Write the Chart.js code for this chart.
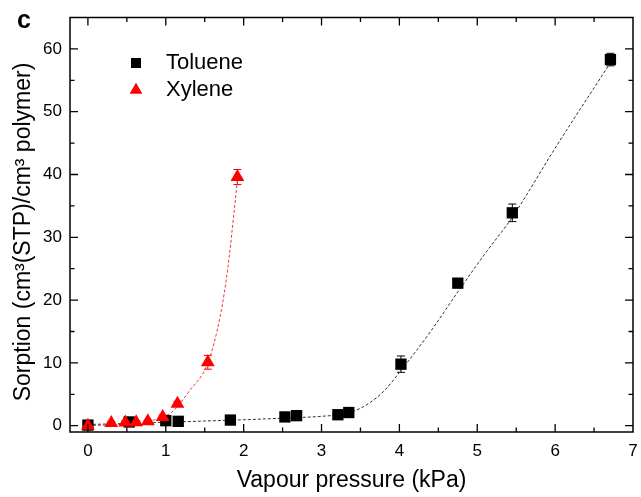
<!DOCTYPE html>
<html>
<head>
<meta charset="utf-8">
<script src="https://cdn.jsdelivr.net/npm/chart.js@4.4.0/dist/chart.umd.min.js"></script>
<style>
  html, body { margin: 0; padding: 0; background: #fff; overflow: hidden; }
  #wrap { position: relative; width: 641px; height: 497px; }
</style>
</head>
<body>
<div id="wrap"><canvas id="chart"></canvas></div>
<script>
const xTicks = [0, 1, 2, 3, 4, 5, 6, 7];
const xMinorTicks = [0.5, 1.5, 2.5, 3.5, 4.5, 5.5, 6.5];
const yTicks = [0, 10, 20, 30, 40, 50, 60];
const yMinorTicks = [5, 15, 25, 35, 45, 55];

// measured points
const tolueneX = [0, 0.53, 1.0, 1.16, 1.83, 2.53, 2.68, 3.21, 3.35, 4.02, 4.75, 5.45, 6.71];
const tolueneY = [0.1, 0.6, 0.8, 0.7, 0.9, 1.4, 1.6, 1.75, 2.1, 9.8, 22.7, 33.9, 58.3];
const tolueneErr = [0.2, 0.2, 0.2, 0.2, 0.2, 0.3, 0.3, 0.3, 0.3, 1.3, 0.5, 1.4, 1.0];

const xyleneX = [0, 0.30, 0.48, 0.62, 0.77, 0.96, 1.15, 1.54, 1.92];
const xyleneY = [0, 0.43, 0.53, 0.55, 0.7, 1.4, 3.5, 10.1, 39.6];
const xyleneErr = [0.2, 0.2, 0.2, 0.2, 0.2, 0.3, 0.4, 1.1, 1.2];

// dashed fit curves
const tolueneFitX = [0, 0.5, 1, 1.5, 2, 2.5, 3, 3.3, 3.45, 3.6, 3.8, 4.02, 4.4, 4.75, 5.1, 5.45, 6.0, 6.71];
const tolueneFitY = [0.2, 0.35, 0.55, 0.75, 0.95, 1.2, 1.5, 1.9, 2.5, 3.5, 5.5, 8.8, 15, 21.3, 27.4, 33.2, 44.2, 57.8];

const xyleneFitX = [0, 0.3, 0.6, 0.9, 1.1, 1.3, 1.54, 1.7, 1.8, 1.88, 1.92];
const xyleneFitY = [0, 0.15, 0.45, 1.1, 2.4, 5.5, 10.0, 17.5, 25.4, 34.4, 39.2];

const FONT = "'Liberation Sans', Arial, sans-serif";
Chart.defaults.font.family = FONT;

const pts = (xs, ys) => xs.map((v, i) => ({ x: v, y: ys[i] }));

const errorBars = {
    id: 'errorBars',
    beforeDatasetsDraw(chart) {
        const { ctx, scales: { x, y } } = chart;
        chart.data.datasets.forEach(ds => {
            if (!ds.err) return;
            ctx.save();
            ctx.strokeStyle = ds.backgroundColor;
            ctx.lineWidth = 1;
            ds.data.forEach((p, i) => {
                const px = x.getPixelForValue(p.x);
                const top = y.getPixelForValue(p.y + ds.err[i]);
                const bot = y.getPixelForValue(p.y - ds.err[i]);
                ctx.beginPath();
                ctx.moveTo(px, top); ctx.lineTo(px, bot);
                ctx.moveTo(px - 4, top); ctx.lineTo(px + 4, top);
                ctx.moveTo(px - 4, bot); ctx.lineTo(px + 4, bot);
                ctx.stroke();
            });
            ctx.restore();
        });
    }
};

const frame = {
    id: 'frame',
    afterDraw(chart) {
        const { ctx, chartArea: a, scales: { x, y } } = chart;
        ctx.save();
        ctx.strokeStyle = '#000';
        ctx.lineWidth = 1.5;
        ctx.strokeRect(a.left, a.top, a.right - a.left, a.bottom - a.top);
        ctx.lineWidth = 1.3;
        ctx.beginPath();
        const xt = (list, len) => list.forEach(v => {
            const px = x.getPixelForValue(v);
            if (px <= a.left + 1 || px >= a.right - 1) return;
            ctx.moveTo(px, a.bottom); ctx.lineTo(px, a.bottom - len);
            ctx.moveTo(px, a.top); ctx.lineTo(px, a.top + len);
        });
        const yt = (list, len) => list.forEach(v => {
            const py = y.getPixelForValue(v);
            ctx.moveTo(a.left, py); ctx.lineTo(a.left + len, py);
            ctx.moveTo(a.right, py); ctx.lineTo(a.right - len, py);
        });
        xt(xTicks, 8); xt(xMinorTicks, 4.5);
        yt(yTicks, 8); yt(yMinorTicks, 4.5);
        ctx.stroke();

        ctx.fillStyle = '#000';

        // y axis title
        ctx.save();
        ctx.translate(24, 232);
        ctx.rotate(-Math.PI / 2);
        ctx.font = '23px ' + FONT;
        ctx.textAlign = 'center';
        ctx.textBaseline = 'middle';
        ctx.fillText('Sorption (cm³(STP)/cm³ polymer)', 0, 0);
        ctx.restore();

        // panel letter
        ctx.font = 'bold 25px ' + FONT;
        ctx.textBaseline = 'alphabetic';
        ctx.fillText('c', 17, 28);

        // legend
        const items = chart.data.datasets.filter(d => d.legend);
        ctx.font = '22px ' + FONT;
        ctx.textBaseline = 'middle';
        items.forEach((d, i) => {
            const ly = 63 + i * 27;
            ctx.fillStyle = d.backgroundColor;
            Chart.helpers.drawPoint(ctx, { pointStyle: d.pointStyle, radius: 7, rotation: 0, borderWidth: 0 }, 136, ly);
            ctx.fill();
            ctx.fillStyle = '#000';
            ctx.fillText(d.label, 166, ly);
        });
        ctx.restore();
    }
};

new Chart(document.getElementById('chart'), {
    type: 'scatter',
    data: {
        datasets: [
            {
                label: 'Toluene fit', data: pts(tolueneFitX, tolueneFitY), showLine: true,
                pointRadius: 0, borderColor: '#333', borderWidth: 1, borderDash: [3, 2],
                cubicInterpolationMode: 'monotone', order: 3
            },
            {
                label: 'Xylene fit', data: pts(xyleneFitX, xyleneFitY), showLine: true,
                pointRadius: 0, borderColor: '#e83a3a', borderWidth: 1, borderDash: [3, 2],
                cubicInterpolationMode: 'monotone', order: 3
            },
            {
                label: 'Toluene', legend: true, data: pts(tolueneX, tolueneY), err: tolueneErr,
                pointStyle: 'rect', pointRadius: 8, backgroundColor: '#000', borderColor: '#000',
                borderWidth: 0, clip: false, order: 2
            },
            {
                label: 'Xylene', legend: true, data: pts(xyleneX, xyleneY), err: xyleneErr,
                pointStyle: 'triangle', pointRadius: 8, backgroundColor: '#ff0000', borderColor: '#ff0000',
                borderWidth: 0, clip: false, order: 1
            }
        ]
    },
    options: {
        responsive: true,
        maintainAspectRatio: false,
        animation: false,
        layout: { padding: { top: 17.5, right: 4, left: 0, bottom: 0 } },
        plugins: { legend: { display: false }, tooltip: { enabled: false } },
        scales: {
            x: {
                type: 'linear', min: -0.23, max: 7,
                grid: { display: false, drawTicks: false }, border: { display: false },
                ticks: { font: { size: 17 }, color: '#000', padding: 9, maxRotation: 0, autoSkip: false },
                afterBuildTicks: s => { s.ticks = xTicks.map(v => ({ value: v })); },
                afterFit: s => { s.height = 65; s.paddingLeft = 0; s.paddingRight = 0; },
                title: { display: true, text: 'Vapour pressure (kPa)', color: '#000', font: { size: 23 }, padding: { top: 0, bottom: 3 } }
            },
            y: {
                type: 'linear', min: -1, max: 65,
                grid: { display: false, drawTicks: false }, border: { display: false },
                ticks: { font: { size: 17 }, color: '#000', padding: 8 },
                afterBuildTicks: s => { s.ticks = yTicks.map(v => ({ value: v })); },
                afterFit: s => { s.width = 70; s.paddingTop = 0; s.paddingBottom = 0; }
            }
        }
    },
    plugins: [errorBars, frame]
});
</script>
</body>
</html>
